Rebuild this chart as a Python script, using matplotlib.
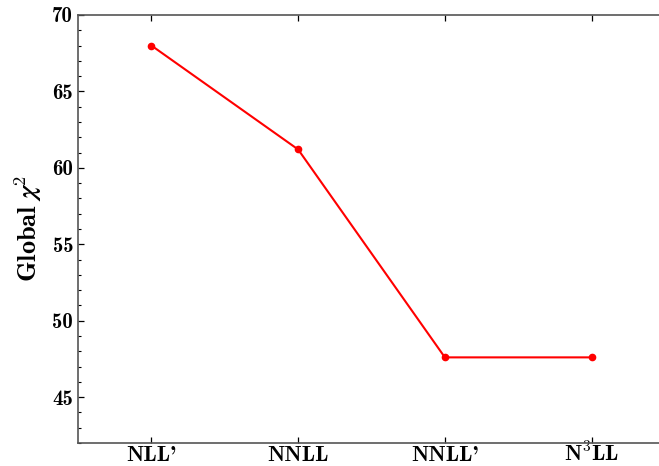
import matplotlib
matplotlib.use("Agg")
import matplotlib.pyplot as plt
from matplotlib.ticker import MultipleLocator

plt.rcParams['mathtext.fontset'] = 'cm'
plt.rcParams['font.family'] = ['cmb10', 'DejaVu Serif']
plt.rcParams['axes.unicode_minus'] = False

orders = ["NLL'", "NNLL", "NNLL'", r"N$^{3}$LL"]
chi2 = [68.0, 61.2, 47.6, 47.6]

fig = plt.figure(figsize=(6.59, 4.66), dpi=100)
ax = fig.add_axes([0.1184, 0.0494, 0.8907, 0.9185])

x = list(range(len(orders)))
ax.plot(x, chi2, color='red', lw=1.5, marker='o', ms=4.5)

ax.set_xlim(-0.5, 3.5)
ax.set_ylim(42, 70)
ax.set_xticks(x)
ax.set_xticklabels(orders, fontsize=16, va='baseline')
ax.yaxis.set_major_locator(MultipleLocator(5))
ax.yaxis.set_minor_locator(MultipleLocator(1))
ax.tick_params(axis='both', which='both', direction='in', top=True, right=True)
ax.tick_params(axis='y', labelsize=15)
ax.tick_params(which='major', length=4, width=0.9)
ax.tick_params(which='minor', length=2, width=0.8)
ax.tick_params(axis='x', which='minor', bottom=False, top=False)
ax.tick_params(axis='x', pad=13)
for s in ax.spines.values():
    s.set_color('#555555')
    s.set_linewidth(1.2)

ax.set_ylabel(r"Global $\boldsymbol{\chi}^{2}$", fontsize=19, labelpad=6)

fig.savefig('out.png', dpi=100)
